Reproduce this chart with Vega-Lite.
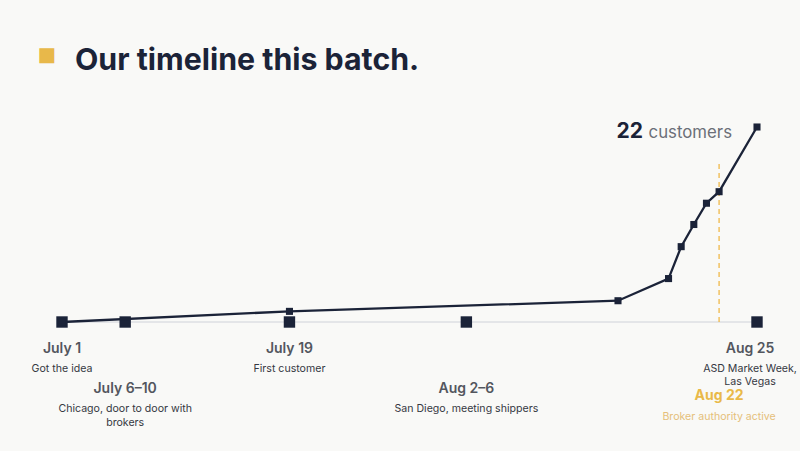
{
  "$schema": "https://vega.github.io/schema/vega-lite/v6.json",
  "width": 695,
  "height": 195,
  "autosize": {"type": "none"},
  "padding": {"left": 62, "top": 127, "right": 43, "bottom": 129},
  "background": "#f9f9f7",
  "title": {
    "text": "Our timeline this batch.",
    "anchor": "start",
    "frame": "group",
    "dx": 13,
    "offset": -56,
    "baseline": "alphabetic",
    "font": "Inter",
    "fontSize": 30.3,
    "fontWeight": 700,
    "color": "#1b2338"
  },
  "datasets": {
    "customers": [
      {"date": "2024-07-01", "count": 0},
      {"date": "2024-07-19", "count": 1.2},
      {"date": "2024-08-14", "count": 2.4},
      {"date": "2024-08-18", "count": 4.9},
      {"date": "2024-08-19", "count": 8.5},
      {"date": "2024-08-20", "count": 11},
      {"date": "2024-08-21", "count": 13.4},
      {"date": "2024-08-22", "count": 14.7},
      {"date": "2024-08-25", "count": 22}
    ],
    "events": [
      {"date": "2024-07-01", "label": "July 1", "note": "Got the idea", "tier": 1},
      {"date": "2024-07-06", "label": "July 6–10", "note": "Chicago, door to door with\nbrokers", "tier": 2},
      {"date": "2024-07-19", "label": "July 19", "note": "First customer", "tier": 1},
      {"date": "2024-08-02", "label": "Aug 2–6", "note": "San Diego, meeting shippers", "tier": 2},
      {"date": "2024-08-22", "label": "Aug 22", "note": "Broker authority active", "tier": 3},
      {"date": "2024-08-25", "label": "Aug 25", "note": "ASD Market Week,\nLas Vegas", "tier": 4}
    ]
  },
  "encoding": {
    "x": {
      "field": "date",
      "type": "temporal",
      "scale": {
        "type": "utc",
        "domain": [
          {"year": 2024, "month": 7, "date": 1, "utc": true},
          {"year": 2024, "month": 8, "date": 25, "utc": true}
        ]
      },
      "axis": null
    }
  },
  "layer": [
    {
      "data": {"name": "customers"},
      "mark": {"type": "rule", "color": "#cfd2d9", "strokeWidth": 1},
      "encoding": {
        "x": {"aggregate": "min", "field": "date", "type": "temporal"},
        "x2": {"aggregate": "max", "field": "date"},
        "y": {
          "datum": 0,
          "type": "quantitative",
          "scale": {"domain": [0, 22], "nice": false},
          "axis": {
            "title": "■",
            "titleColor": "#e8b84a",
            "titleFont": "DejaVu Sans",
            "titleFontSize": 19.5,
            "titleFontWeight": 400,
            "titleAngle": 0,
            "titleAlign": "left",
            "titleBaseline": "middle",
            "titleX": -25,
            "titleY": -72.5,
            "labels": false,
            "ticks": false,
            "domain": false,
            "grid": false
          }
        }
      }
    },
    {
      "data": {"name": "events"},
      "transform": [{"filter": "datum.tier == 3"}],
      "mark": {"type": "rule", "color": "#f0b94a", "strokeWidth": 1.3, "strokeDash": [5, 4]},
      "encoding": {
        "y": {"datum": 0, "type": "quantitative"},
        "y2": {"datum": 18.1}
      }
    },
    {
      "data": {"name": "events"},
      "transform": [{"filter": "datum.tier != 3"}],
      "mark": {"type": "square", "color": "#1b2338", "filled": true, "opacity": 1, "size": 130},
      "encoding": {"y": {"datum": 0, "type": "quantitative"}}
    },
    {
      "data": {"name": "customers"},
      "mark": {"type": "line", "color": "#1b2338", "strokeWidth": 2.3},
      "encoding": {"y": {"field": "count", "type": "quantitative"}}
    },
    {
      "data": {"name": "customers"},
      "mark": {"type": "square", "color": "#1b2338", "filled": true, "opacity": 1, "size": 50},
      "encoding": {"y": {"field": "count", "type": "quantitative"}}
    },
    {
      "data": {"name": "customers"},
      "transform": [
        {"joinaggregate": [{"op": "max", "field": "count", "as": "total"}]},
        {"filter": "datum.count == datum.total"}
      ],
      "mark": {"type": "text", "align": "right", "baseline": "alphabetic", "dx": -114, "dy": 10.6, "font": "Inter", "fontSize": 21, "fontWeight": 700, "color": "#1b2338"},
      "encoding": {
        "y": {"field": "count", "type": "quantitative"},
        "text": {"field": "count", "type": "quantitative"}
      }
    },
    {
      "data": {"name": "customers"},
      "transform": [
        {"joinaggregate": [{"op": "max", "field": "count", "as": "total"}]},
        {"filter": "datum.count == datum.total"}
      ],
      "mark": {"type": "text", "align": "right", "baseline": "alphabetic", "dx": -25, "dy": 10.6, "font": "Inter", "fontSize": 16.8, "fontWeight": 400, "color": "#6b6f78", "text": "customers"},
      "encoding": {"y": {"field": "count", "type": "quantitative"}}
    },
    {
      "data": {"name": "events"},
      "transform": [{"filter": "datum.tier == 1"}],
      "mark": {"type": "text", "baseline": "alphabetic", "dy": 30.7, "font": "Inter", "fontSize": 14, "fontWeight": 600, "color": "#53565e"},
      "encoding": {"y": {"datum": 0, "type": "quantitative"}, "text": {"field": "label"}}
    },
    {
      "data": {"name": "events"},
      "transform": [{"filter": "datum.tier == 1"}],
      "mark": {"type": "text", "baseline": "alphabetic", "dy": 49.5, "lineBreak": "\n", "lineHeight": 14, "font": "Inter", "fontSize": 10.6, "color": "#353842"},
      "encoding": {"y": {"datum": 0, "type": "quantitative"}, "text": {"field": "note"}}
    },
    {
      "data": {"name": "events"},
      "transform": [{"filter": "datum.tier == 2"}],
      "mark": {"type": "text", "baseline": "alphabetic", "dy": 70.7, "font": "Inter", "fontSize": 14, "fontWeight": 600, "color": "#53565e"},
      "encoding": {"y": {"datum": 0, "type": "quantitative"}, "text": {"field": "label"}}
    },
    {
      "data": {"name": "events"},
      "transform": [{"filter": "datum.tier == 2"}],
      "mark": {"type": "text", "baseline": "alphabetic", "dy": 89.7, "lineBreak": "\n", "lineHeight": 14, "font": "Inter", "fontSize": 10.6, "color": "#353842"},
      "encoding": {"y": {"datum": 0, "type": "quantitative"}, "text": {"field": "note"}}
    },
    {
      "data": {"name": "events"},
      "transform": [{"filter": "datum.tier == 3"}],
      "mark": {"type": "text", "baseline": "alphabetic", "dy": 78, "font": "Inter", "fontSize": 14, "fontWeight": 700, "color": "#e9b949"},
      "encoding": {"y": {"datum": 0, "type": "quantitative"}, "text": {"field": "label"}}
    },
    {
      "data": {"name": "events"},
      "transform": [{"filter": "datum.tier == 3"}],
      "mark": {"type": "text", "baseline": "alphabetic", "dy": 98, "font": "Inter", "fontSize": 10.6, "color": "#e5c07a"},
      "encoding": {"y": {"datum": 0, "type": "quantitative"}, "text": {"field": "note"}}
    },
    {
      "data": {"name": "events"},
      "transform": [{"filter": "datum.tier == 4"}],
      "mark": {"type": "text", "baseline": "alphabetic", "dx": -7, "dy": 30.7, "font": "Inter", "fontSize": 14, "fontWeight": 600, "color": "#53565e"},
      "encoding": {"y": {"datum": 0, "type": "quantitative"}, "text": {"field": "label"}}
    },
    {
      "data": {"name": "events"},
      "transform": [{"filter": "datum.tier == 4"}],
      "mark": {"type": "text", "baseline": "alphabetic", "dx": -7, "dy": 49.5, "lineBreak": "\n", "lineHeight": 13.5, "font": "Inter", "fontSize": 10.6, "color": "#353842"},
      "encoding": {"y": {"datum": 0, "type": "quantitative"}, "text": {"field": "note"}}
    }
  ],
  "config": {"view": {"stroke": null}}
}
